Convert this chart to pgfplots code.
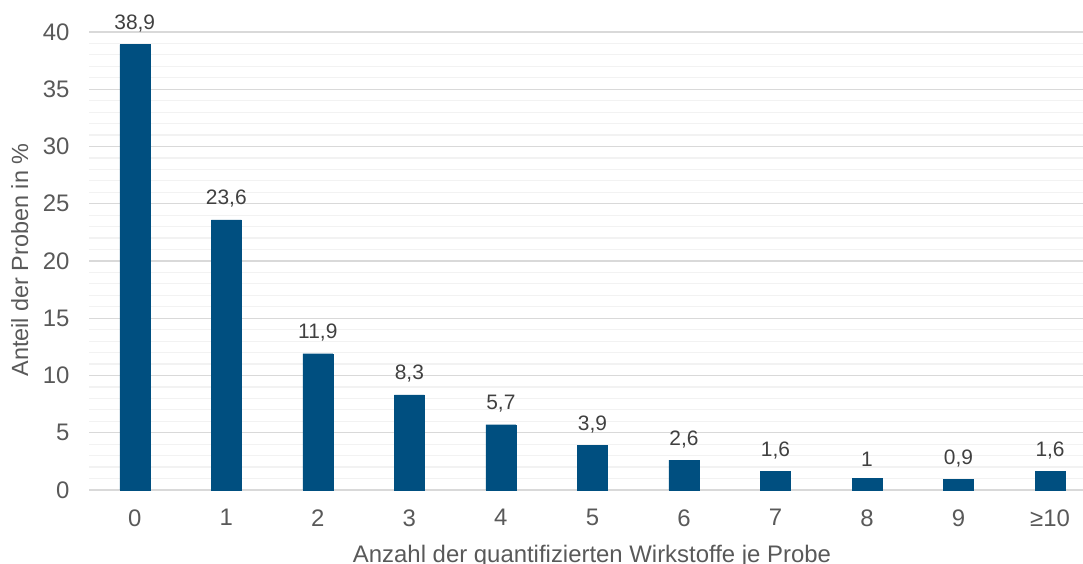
\documentclass[border=0pt]{standalone}
\usepackage{pgfplots}
\pgfplotsset{compat=1.18}
\usepackage{fontspec}
\setmainfont{Liberation Sans}
\definecolor{barblue}{RGB}{0,79,128}
\definecolor{ticktxt}{RGB}{89,89,89}
\definecolor{lbltxt}{RGB}{64,64,64}
\definecolor{majgrid}{RGB}{217,217,217}
\definecolor{mingrid}{RGB}{242,242,242}
\begin{document}
\begin{tikzpicture}[x=1bp,y=1bp]
\useasboundingbox (0,0) rectangle (1083,564);
\begin{axis}[
  at={(89bp,74bp)}, anchor=south west,
  scale only axis, width=994bp, height=458bp,
  xmin=-0.5, xmax=10.36, ymin=0, ymax=40,
  ytick={0,5,...,40}, minor y tick num=4,
  xtick={0,...,10}, xticklabels={0,1,2,3,4,5,6,7,8,9,≥10},
  ymajorgrids, yminorgrids,
  major grid style={draw=majgrid, line width=1.2bp},
  minor grid style={draw=mingrid, line width=1.2bp},
  axis line style={draw=none},
  major tick length=0pt, minor tick length=0pt,
  tick style={draw=none},
  /pgf/number format/assume math mode=true,
  ticklabel style={font=\fontsize{24}{28}\selectfont, text=ticktxt},
  yticklabel style={xshift=-16bp},
  xticklabel style={yshift=-16bp},
  clip=false,
]
\addplot[ybar, bar width=30bp, fill=barblue, draw=barblue,
  nodes near coords, point meta=explicit symbolic,
  every node near coord/.append style={font=\fontsize{21}{25}\selectfont, text=lbltxt, yshift=9bp}]
  table[meta=lab] {
x y lab
0 38.9 {38,9}
1 23.6 {23,6}
2 11.9 {11,9}
3 8.3 {8,3}
4 5.7 {5,7}
5 3.9 {3,9}
6 2.6 {2,6}
7 1.6 {1,6}
8 1 {1}
9 0.9 {0,9}
10 1.6 {1,6}
};
\end{axis}
\node[anchor=base, text=ticktxt, font=\fontsize{24}{28}\selectfont] at (592,1) {Anzahl der quantifizierten Wirkstoffe je Probe};
\node[rotate=90, anchor=base, text=ticktxt, font=\fontsize{23.5}{28}\selectfont] at (28,304) {Anteil der Proben in \%};
\end{tikzpicture}
\end{document}
